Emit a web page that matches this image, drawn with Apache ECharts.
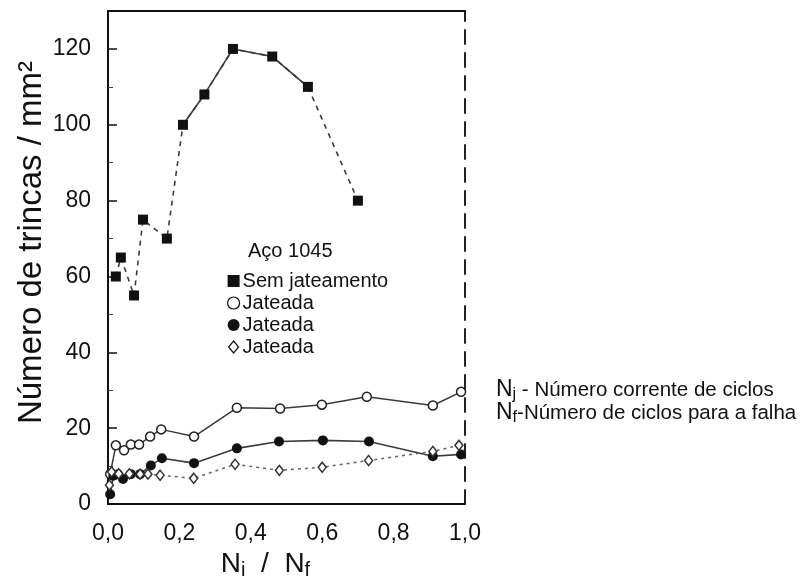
<!DOCTYPE html>
<html>
<head>
<meta charset="utf-8">
<script src="https://cdn.jsdelivr.net/npm/echarts@6/dist/echarts.min.js"></script>
<style>html,body{margin:0;padding:0;background:#fff;}#c{width:808px;height:585px;}</style>
</head>
<body>
<div id="c"></div>
<script>
// Sem jateamento (filled squares)
const semX = [0.022, 0.036, 0.073, 0.098, 0.165, 0.21, 0.27, 0.35, 0.46, 0.56, 0.70];
const semY = [60, 65, 55, 75, 70, 100, 108, 120, 118, 110, 80];
// Jateada (open circles)
const openX = [0.006, 0.022, 0.045, 0.064, 0.087, 0.118, 0.149, 0.241, 0.361, 0.482, 0.599, 0.725, 0.910, 0.989];
const openY = [7.9, 15.5, 14.2, 15.7, 15.7, 17.8, 19.7, 17.8, 25.4, 25.2, 26.2, 28.3, 26.0, 29.6];
// Jateada (filled circles)
const fillX = [0.006, 0.015, 0.028, 0.042, 0.064, 0.090, 0.120, 0.151, 0.241, 0.361, 0.479, 0.602, 0.731, 0.910, 0.989];
const fillY = [2.6, 7.5, 7.9, 6.6, 7.9, 7.9, 10.2, 12.1, 10.8, 14.7, 16.5, 16.8, 16.5, 12.6, 13.1];
// Jateada (open diamonds)
const diaX = [0.004, 0.010, 0.030, 0.060, 0.090, 0.112, 0.146, 0.240, 0.356, 0.480, 0.600, 0.730, 0.910, 0.983];
const diaY = [5.0, 8.5, 8.0, 8.0, 7.9, 7.9, 7.6, 6.8, 10.5, 8.9, 9.7, 11.5, 13.9, 15.5];
// axis ticks
const xTicks = [0, 0.2, 0.4, 0.6, 0.8, 1.0];
const yTicks = [0, 20, 40, 60, 80, 100, 120];

const pairs = (xs, ys) => xs.map((x, i) => [x, ys[i]]);
const FONT = 'Liberation Sans, Arial, sans-serif';
const LINE = '#3a3a3a';
const annRich = {
  n: {fontFamily: FONT, fontSize: 23, fontWeight: 'normal', color: '#111'},
  s: {fontFamily: FONT, fontSize: 16, fontWeight: 'normal', color: '#111', padding: [10, 0, 0, 0]},
  t: {fontFamily: FONT, fontSize: 20.5, fontWeight: 'normal', color: '#111'}
};

const chart = echarts.init(document.getElementById('c'), null, {renderer: 'canvas'});
chart.setOption({
  animation: false,
  backgroundColor: '#fff',
  grid: {left: 108, right: 343, top: 11, bottom: 78},
  title: [
    {text: 'Aço 1045', left: 243, top: 236,
     textStyle: {fontFamily: FONT, fontSize: 20, fontWeight: 'normal', color: '#111'}},
    {text: '{n|N}{s|j}{t| - Número corrente de ciclos}', left: 491, top: 372,
     textStyle: {fontWeight: 'normal', rich: annRich}},
    {text: '{n|N}{s|f}{t|-Número de ciclos para a falha}', left: 491, top: 395,
     textStyle: {fontWeight: 'normal', rich: annRich}}
  ],
  legend: {
    orient: 'vertical', left: 222, top: 266, itemGap: 2,
    itemWidth: 12, itemHeight: 12,
    textStyle: {fontFamily: FONT, fontSize: 20, color: '#111', padding: [0, 0, 0, -2]},
    formatter: n => n.indexOf('Jateada') === 0 ? 'Jateada' : n,
    data: [
      {name: 'Sem jateamento', icon: 'rect', itemStyle: {color: '#111', borderWidth: 0}},
      {name: 'Jateada A', icon: 'circle', itemStyle: {color: '#fff', borderColor: '#111', borderWidth: 1.2}},
      {name: 'Jateada B', icon: 'circle', itemStyle: {color: '#111', borderWidth: 0}},
      {name: 'Jateada C', icon: 'path://M5,0 L10,6 L5,12 L0,6 Z', itemStyle: {color: '#fff', borderColor: '#111', borderWidth: 1.2}}
    ]
  },
  xAxis: [{
    type: 'value', min: 0, max: 1, interval: 0.2,
    axisLine: {show: true, onZero: false, lineStyle: {color: '#111', width: 2}},
    axisTick: {show: false},
    splitLine: {show: false},
    axisLabel: {margin: 18, fontFamily: FONT, fontSize: 23, color: '#111',
      formatter: v => xTicks.some(t => Math.abs(t - v) < 1e-6) ? v.toFixed(1).replace('.', ',') : ''},
    name: '{a|N}{b|i}{a|  /  N}{b|f}',
    nameLocation: 'middle', nameGap: 40,
    nameTextStyle: {padding: [0, 42, 0, 0], rich: {
      a: {fontFamily: FONT, fontSize: 28, color: '#111'},
      b: {fontFamily: FONT, fontSize: 20, color: '#111', padding: [12, 0, 0, 0]}}}
  }, {
    type: 'value', min: 0, max: 1, position: 'top',
    axisLine: {show: true, onZero: false, lineStyle: {color: '#111', width: 2}},
    axisTick: {show: false}, axisLabel: {show: false}, splitLine: {show: false}
  }],
  yAxis: [{
    type: 'value', min: 0, max: 130, interval: 20,
    axisLine: {show: true, onZero: false, lineStyle: {color: '#111', width: 2}},
    axisTick: {show: true, inside: true, length: 9, lineStyle: {color: '#111', width: 1.5}},
    minorTick: {show: true, splitNumber: 2, length: 5, lineStyle: {color: '#444'}},
    splitLine: {show: false},
    axisLabel: {margin: 17, fontFamily: FONT, fontSize: 23, color: '#111',
      formatter: v => yTicks.indexOf(v) >= 0 ? String(v) : ''},
    name: 'Número de trincas / mm²',
    nameLocation: 'middle', nameGap: 44, nameRotate: 90,
    nameTextStyle: {fontFamily: FONT, fontSize: 33, color: '#111', padding: [0, 0, 0, 30]}
  }, {
    type: 'value', min: 0, max: 130, position: 'right',
    axisLine: {show: true, onZero: false, lineStyle: {color: '#222', width: 2, type: [14, 9]}},
    axisTick: {show: false}, axisLabel: {show: false}, splitLine: {show: false}
  }],
  series: [
    {name: 'Sem jateamento', type: 'line', data: pairs(semX, semY),
     symbol: 'rect', symbolSize: 10, itemStyle: {color: '#111'},
     lineStyle: {color: LINE, width: 1.6, type: [5, 5]}, z: 5},
    {name: 'Sem jateamento (solid)', type: 'line', data: pairs(semX.slice(5, 10), semY.slice(5, 10)),
     symbol: 'none', lineStyle: {color: LINE, width: 1.6}, z: 4},
    {name: 'Jateada A', type: 'line', data: pairs(openX, openY),
     symbol: 'circle', symbolSize: 9,
     itemStyle: {color: '#fff', borderColor: '#222', borderWidth: 1.5},
     lineStyle: {color: LINE, width: 1.5}, z: 5},
    {name: 'Jateada B', type: 'line', data: pairs(fillX, fillY),
     symbol: 'circle', symbolSize: 10,
     itemStyle: {color: '#111', borderWidth: 0},
     lineStyle: {color: LINE, width: 1.6}, z: 5},
    {name: 'Jateada C', type: 'line', data: pairs(diaX, diaY),
     symbol: 'diamond', symbolSize: [8, 10],
     itemStyle: {color: '#fff', borderColor: '#333', borderWidth: 1.5},
     lineStyle: {color: '#666', width: 1.5, type: [3, 4]}, z: 5}
  ]
});
</script>
</body>
</html>
